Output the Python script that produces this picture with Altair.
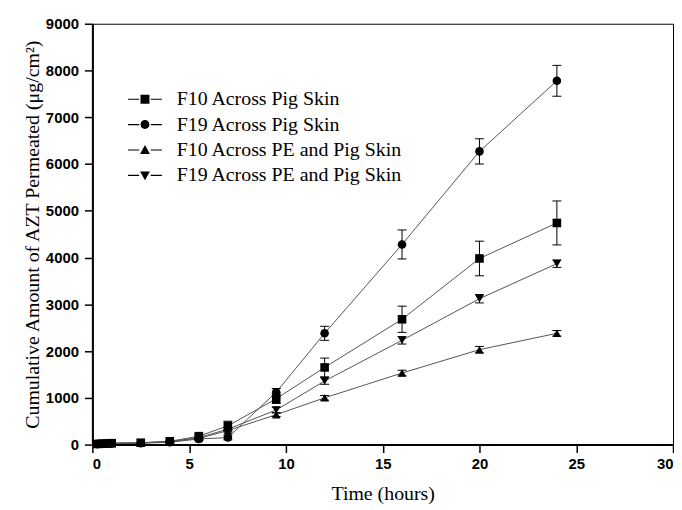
import altair as alt
import pandas as pd

time_h = [0.25, 0.5, 0.75, 1, 2.5, 4, 5.5, 7, 9.5, 12, 16, 20, 24]
series = ["F10 Across Pig Skin", "F19 Across Pig Skin",
          "F10 Across PE and Pig Skin", "F19 Across PE and Pig Skin"]

f10_pig = [15, 20, 25, 30, 40, 70, 180, 400, 980, 1650, 2680, 3980, 4740]
f10_pig_err = [0, 0, 0, 0, 0, 20, 40, 100, 100, 200, 280, 370, 470]
f19_pig = [10, 15, 20, 25, 30, 50, 120, 150, 1120, 2380, 4280, 6270, 7780]
f19_pig_err = [0, 0, 0, 0, 0, 15, 30, 50, 80, 150, 310, 270, 330]
f10_pe = [10, 15, 20, 25, 35, 70, 130, 300, 640, 1000, 1530, 2030, 2380]
f10_pe_err = [0, 0, 0, 0, 0, 0, 20, 30, 40, 50, 60, 70, 60]
f19_pe = [10, 15, 20, 25, 35, 60, 150, 330, 740, 1360, 2230, 3120, 3870]
f19_pe_err = [0, 0, 0, 0, 0, 0, 20, 40, 60, 70, 80, 90, 80]

x_ticks = [0, 5, 10, 15, 20, 25, 30]
y_ticks = [0, 1000, 2000, 3000, 4000, 5000, 6000, 7000, 8000, 9000]

shapes = ["square", "circle", "triangle-up", "triangle-down"]
stub = "M-1.9,-0.06H-0.65V0.06H-1.9ZM0.65,-0.06H1.9V0.06H0.65Z"
legend_paths = [
    stub + "M-0.5,-0.5H0.5V0.5H-0.5Z",
    stub + "M-0.5,0A0.5,0.5 0 1,0 0.5,0A0.5,0.5 0 1,0 -0.5,0Z",
    stub + "M0,-0.55L0.55,0.45L-0.55,0.45Z",
    stub + "M0,0.55L0.55,-0.45L-0.55,-0.45Z",
]

rows = []
for name, vals, errs in zip(series,
                            [f10_pig, f19_pig, f10_pe, f19_pe],
                            [f10_pig_err, f19_pig_err, f10_pe_err, f19_pe_err]):
    for t, v, e in zip(time_h, vals, errs):
        rows.append(dict(series=name, t=t, v=v, lo=v - e, hi=v + e, err=e))
df = pd.DataFrame(rows)

xscale = alt.Scale(domain=[0, 30], nice=False)
yscale = alt.Scale(domain=[0, 9000], nice=False)
xaxis = alt.Axis(values=x_ticks, title="Time (hours)", format="d")
yaxis = alt.Axis(values=y_ticks, title="Cumulative Amount of AZT Permeated (μg/cm²)",
                 format="d")

def X(f):
    return alt.X(f, scale=xscale, axis=xaxis)

def Y(f):
    return alt.Y(f, scale=yscale, axis=yaxis)

base = alt.Chart(df)

lines = base.mark_line(color="#555555", strokeWidth=1).encode(
    x=X("t:Q"), y=Y("v:Q"), detail="series:N")

eb = base.transform_filter("datum.err > 0")
rules = eb.mark_rule(color="black", strokeWidth=1).encode(
    x=X("t:Q"), y=Y("lo:Q"), y2="hi:Q")
cap_hi = eb.mark_tick(color="black", thickness=1, size=9, orient="horizontal",
                      opacity=1).encode(x=X("t:Q"), y=Y("hi:Q"))
cap_lo = eb.mark_tick(color="black", thickness=1, size=9, orient="horizontal",
                      opacity=1).encode(x=X("t:Q"), y=Y("lo:Q"))

points = base.mark_point(filled=True, color="black", opacity=1, size=75).encode(
    x=X("t:Q"), y=Y("v:Q"),
    shape=alt.Shape("series:N", scale=alt.Scale(domain=series, range=shapes),
                    legend=None))

legend_layer = base.transform_filter("datum.t < 0").mark_point(
    filled=True, color="black", opacity=1, size=324
).encode(
    x=X("t:Q"), y=Y("v:Q"),
    shape=alt.Shape("series:N", scale=alt.Scale(domain=series, range=legend_paths),
                    legend=alt.Legend(title=None, orient="none", legendX=43, legendY=66,
                                      labelFont="Liberation Serif", labelFontSize=20,
                                      labelColor="black", labelOffset=22, rowPadding=5.6,
                                      labelLimit=400, symbolSize=324,
                                      symbolFillColor="black", symbolOpacity=1)))

chart = alt.layer(lines, rules, cap_hi, cap_lo, points, legend_layer).resolve_scale(
    shape="independent"
).properties(
    width=585, height=424,
    padding={"left": 14, "top": 7, "right": 0, "bottom": 0},
    background="white",
).configure_view(
    stroke="black", strokeWidth=1
).configure_axis(
    grid=False, domainColor="black", domainWidth=2, tickColor="black", tickWidth=1.5,
    labelFont="Liberation Sans", labelFontWeight="bold", labelFontSize=15,
    labelColor="black", titleFont="Liberation Serif", titleFontSize=20,
    titleFontWeight="normal", titleColor="black"
).configure_axisX(
    tickSize=8, labelPadding=4, titlePadding=12
).configure_axisY(
    tickSize=8, labelPadding=6, titlePadding=3
)

chart.save("out.html", embed_options={"renderer": "svg", "actions": False})
